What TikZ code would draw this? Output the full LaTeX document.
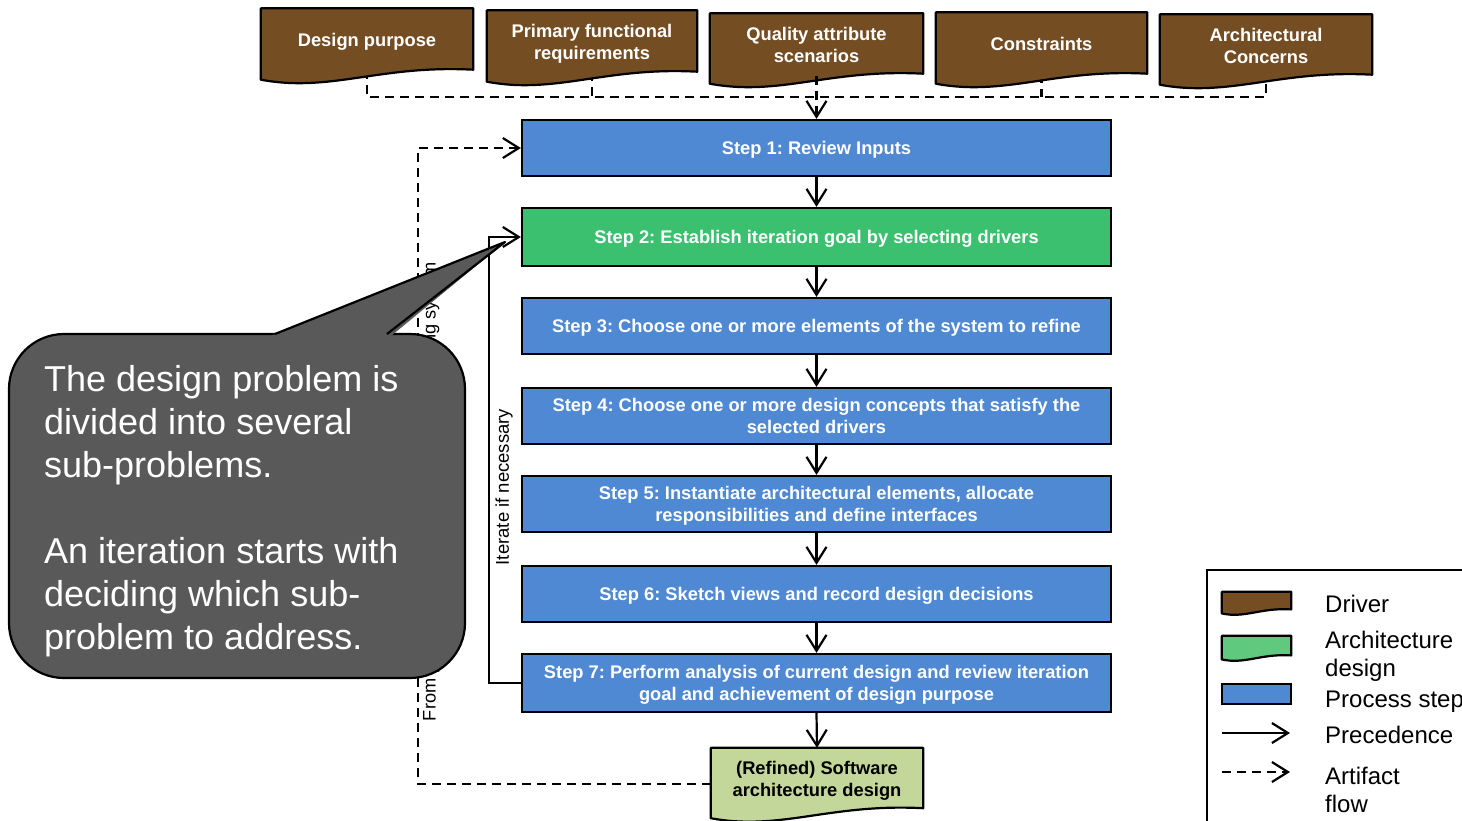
\documentclass[tikz,border=0pt]{standalone}
\usepackage{fontspec}
\setmainfont{Liberation Sans}
\usetikzlibrary{arrows.meta,calc}
\pgfdeclarelayer{wires}
\pgfdeclarelayer{shapes}
\pgfsetlayers{wires,shapes,main}
\frenchspacing

\definecolor{driverbrown}{HTML}{744D22}
\definecolor{stepblue}{HTML}{4F88D3}
\definecolor{goalgreen}{HTML}{3AC06E}
\definecolor{designgreen}{HTML}{C4D79B}
\definecolor{legendgreen}{HTML}{5FCA7E}
\definecolor{notegrey}{HTML}{595959}

% document shape with a wavy bottom edge, drawn behind the text of node #1
\newcommand\wavedoc[3]{%
  \begin{pgfonlayer}{shapes}
  \path[draw=black, line width=2.2pt, fill=#2, line join=round]
    (#1.north west) -- (#1.north east) -- ($(#1.south east)+(0,{-2*#3})$)
    .. controls ($(#1.south west)!0.56!(#1.south east)+(0,{-7*#3})$)
    and ($(#1.south west)!0.33!(#1.south east)+(0,{21*#3})$)
    .. ($(#1.south west)+(0,{8*#3})$) -- cycle;
  \end{pgfonlayer}}

\tikzset{
  every node/.style={inner sep=0pt},
  boldtext/.style={font=\fontsize{18.3}{22}\selectfont\bfseries, text depth=0pt},
  stepbox/.style={boldtext, draw=black, line width=2.2pt, fill=stepblue,
    minimum width=589pt, minimum height=56pt, text=white, align=center},
  drv/.style={boldtext, text=white, align=center},
  flow/.style={line width=2.2pt, -{Straight Barb[length=16pt,width=20pt]}},
  dflow/.style={line width=2.2pt, dash pattern=on 9pt off 6pt},
  sidelabel/.style={font=\fontsize{18.5}{22}\selectfont, rotate=90},
  legendtext/.style={font=\fontsize{24}{28}\selectfont, anchor=west, align=left},
}

\begin{document}
\begin{tikzpicture}[x=1pt,y=-1pt]
\useasboundingbox (0,0) rectangle (1462,820);

% drivers
\node[drv, minimum width=212pt, minimum height=63pt] (dp) at (367,40) {Design purpose};
\node[drv, minimum width=210pt, minimum height=63pt] (pf) at (592,42) {Primary functional\\requirements};
\node[drv, minimum width=213pt, minimum height=62pt] (qa) at (816.5,44.5) {Quality attribute\\scenarios};
\node[drv, minimum width=211pt, minimum height=63pt] (cn) at (1041.5,44) {Constraints};
\node[drv, minimum width=212pt, minimum height=62pt] (ac) at (1266,45.5) {Architectural\\Concerns};
\foreach \n in {dp,pf,qa,cn,ac} {\wavedoc{\n}{driverbrown}{1}}

% process steps
\node[stepbox] (s1) at (816.5,148) {Step 1: Review Inputs};
\node[stepbox, fill=goalgreen, minimum height=58pt] (s2) at (816.5,237) {Step 2: Establish iteration goal by selecting drivers};
\node[stepbox] (s3) at (816.5,326) {Step 3: Choose one or more elements of the system to refine};
\node[stepbox] (s4) at (816.5,416) {Step 4: Choose one or more design concepts that satisfy the\\selected drivers};
\node[stepbox] (s5) at (816.5,504) {Step 5: Instantiate architectural elements, allocate\\responsibilities and define interfaces};
\node[stepbox] (s6) at (816.5,594) {Step 6: Sketch views and record design decisions};
\node[stepbox, minimum height=58pt] (s7) at (816.5,683) {Step 7: Perform analysis of current design and review iteration\\goal and achievement of design purpose};

% resulting design
\node[boldtext, align=center, minimum width=212pt, minimum height=62pt] (out) at (817,779) {(Refined) Software\\architecture design};
\wavedoc{out}{designgreen}{1}

% drivers feed into step 1
\coordinate (bus) at (0,97);
\begin{pgfonlayer}{wires}
\draw[dflow] (dp.center) -- (dp.center |- bus) -| (ac.center);
\draw[dflow] (pf.center) -- (pf.center |- bus);
\draw[dflow] (cn.center) -- (cn.center |- bus);
\end{pgfonlayer}
\draw[dflow, -{Straight Barb[length=16pt,width=20pt]}] (qa.south) -- (s1.north);

% precedence between steps
\draw[flow] (s1.south) -- (s2.north);
\draw[flow] (s2.south) -- (s3.north);
\draw[flow] (s3.south) -- (s4.north);
\draw[flow] (s4.south) -- (s5.north);
\draw[flow] (s5.south) -- (s6.north);
\draw[flow] (s6.south) -- (s7.north);
\draw[flow] (s7.south) -- (out.north);

% iteration loop
\coordinate (itx) at (489,0);
\draw[flow] (s7.west) -- (itx |- s7.west) |- (s2.west);
\node[sidelabel] (itlbl) at (504,487) {Iterate if necessary};

% feedback of the design into the next round
\coordinate (fbx) at (418,0);
\coordinate (outleft) at ($(out.west)+(0,5)$);
\draw[dflow, -{Straight Barb[length=16pt,width=20pt]}] (outleft) -- (fbx |- outleft) |- (s1.west);
\node[sidelabel, font=\fontsize{18.2}{22}\selectfont] (fromlbl) at (431,491.5) {From previous round of iterations or from existing system};

% callout
\draw[line width=2.2pt, fill=notegrey, rounded corners=55pt] (9,334) rectangle (465,678);
\fill[notegrey] (271,336) -- (505,242) -- (391,336) -- cycle;
\draw[line width=2.2pt, line join=round] (275,334) -- (505,242) -- (387,334);
\node[anchor=north west, align=left, text=white, font=\fontsize{36}{43}\selectfont] (note) at (44,365)
  {The design problem is\\divided into several\\sub-problems.\\[43pt]An iteration starts with\\deciding which sub-\\problem to address.};

% legend
\draw[line width=2.2pt] (1207,570) rectangle (1480,840);
\node[minimum width=69pt, minimum height=18pt] (lgdrv) at (1256.5,601) {};
\wavedoc{lgdrv}{driverbrown}{0.4}
\node[minimum width=69pt, minimum height=20pt] (lgarch) at (1256.5,646) {};
\wavedoc{lgarch}{legendgreen}{0.4}
\node[draw=black, line width=2.2pt, fill=stepblue, minimum width=69pt, minimum height=20pt] (lgstep) at (1256.5,694) {};
\coordinate (lgp1) at (1222,733);
\coordinate (lgp2) at (1290,733);
\draw[flow] (lgp1) -- (lgp2);
\coordinate (lga1) at (1222,772);
\coordinate (lga2) at (1290,772);
\draw[line width=2.2pt, dash pattern=on 9pt off 6pt, -{Straight Barb[length=16pt,width=20pt]}] (lga1) -- (lga2);
\node[legendtext] (tdrv) at (1325,604) {Driver};
\node[legendtext] (tarch) at (1325,656) {Architecture\\design};
\node[legendtext] (tstep) at (1325,702) {Process step};
\node[legendtext] (tprec) at (1325,735) {Precedence};
\node[legendtext] (tart) at (1325,790) {Artifact\\flow};
\end{tikzpicture}
\end{document}
